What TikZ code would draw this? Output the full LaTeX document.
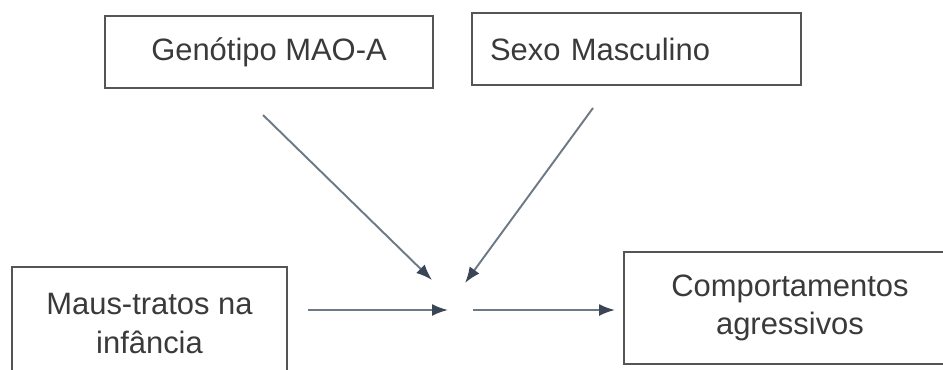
\documentclass[tikz,border=0pt]{standalone}
\usepackage{fontspec}
\setmainfont{Liberation Sans}
\usetikzlibrary{
    arrows.meta,
    positioning
}
\definecolor{boxline}{HTML}{555555}
\definecolor{boxtext}{HTML}{3A3A3A}
\definecolor{arrowline}{HTML}{6E7986}
\definecolor{arrowtip}{HTML}{3A4656}
\tikzset{
    box/.style={draw=boxline, line width=1.1pt, text=boxtext,
        font=\fontsize{17.6}{22}\selectfont, inner sep=0pt,
        minimum height=1.44cm},
    arr/.style={draw=arrowline, line width=1.1pt,
        -{Latex[length=0.32cm, width=0.24cm, color=arrowtip]}}
}

\begin{document}
\begin{tikzpicture}
                        \useasboundingbox (0, 0) rectangle (18.86, 7.38);
                        \node[box, minimum width=6.56cm] (mao) at (5.38, 6.34) {Genótipo MAO-A};
                        \node[box, inner xsep=0.36cm, text width=5.86cm, align=left] (sexo) at (12.73, 6.40) {Sexo Masculino};
                        \node[box, minimum width=5.5cm, minimum height=2.26cm, align=center] (maus) at (2.99, 0.91) {Maus-tratos na\\infância};
                        \node[box, draw=none, minimum width=6.6cm, minimum height=2.2cm, align=center] (comp) at (15.8, 1.22) {Comportamentos\\agressivos};
                        % box runs on past the right edge of the page
                        \draw[boxline, line width=1.1pt] (comp.south west) rectangle ([xshift=2cm]comp.north east);
                        \coordinate (maofrom) at (5.26, 5.08);
                        \coordinate (maoto) at (8.64, 1.78);
                        \coordinate (sexofrom) at (11.86, 5.22);
                        \coordinate (sexoto) at (9.30, 1.72);
                        \coordinate (mausfrom) at (6.16, 1.18);
                        \coordinate (mausto) at (8.96, 1.18);
                        \coordinate (compfrom) at (9.46, 1.18);
                        \coordinate (compto) at (12.30, 1.18);
                        \draw
                        (maofrom) edge[arr] (maoto)
                        (sexofrom) edge[arr] (sexoto)
                        (mausfrom) edge[arr] (mausto)
                        (compfrom) edge[arr] (compto);
                    \end{tikzpicture}
\end{document}
